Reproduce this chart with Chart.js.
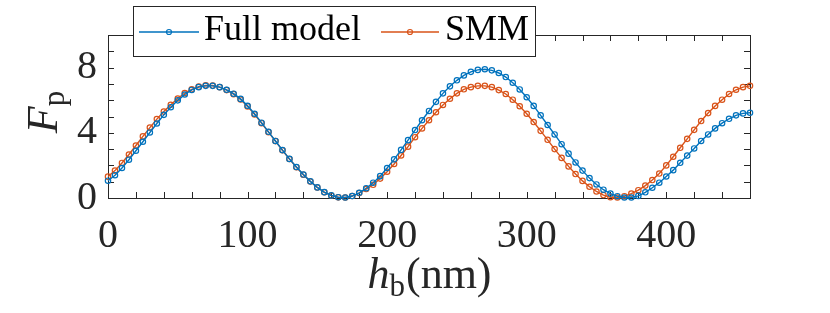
<!DOCTYPE html>
<html>
<head>
<meta charset="utf-8">
<script src="https://cdn.jsdelivr.net/npm/chart.js@4.4.1/dist/chart.umd.min.js"></script>
<style>
  html, body { margin: 0; padding: 0; background: #fff; }
  #wrap { width: 830px; height: 313px; }
</style>
</head>
<body>
<div id="wrap"><canvas id="fpChart"></canvas></div>
<script>
// h_b in nm
const hb = [
  0, 5, 10, 15, 20, 25, 30, 35, 40, 45,
  50, 55, 60, 65, 70, 75, 80, 85, 90, 95,
  100, 105, 110, 115, 120, 125, 130, 135, 140, 145,
  150, 155, 160, 165, 170, 175, 180, 185, 190, 195,
  200, 205, 210, 215, 220, 225, 230, 235, 240, 245,
  250, 255, 260, 265, 270, 275, 280, 285, 290, 295,
  300, 305, 310, 315, 320, 325, 330, 335, 340, 345,
  350, 355, 360, 365, 370, 375, 380, 385, 390, 395,
  400, 405, 410, 415, 420, 425, 430, 435, 440, 445,
  450, 455, 460
];

// Purcell factor F_p, full model
const fullModel = [
  1.06, 1.40, 1.84, 2.35, 2.90, 3.45, 4.02, 4.57, 5.10, 5.57,
  5.99, 6.35, 6.63, 6.80, 6.88, 6.88, 6.80, 6.64, 6.40, 6.08,
  5.66, 5.17, 4.62, 4.06, 3.50, 2.94, 2.40, 1.90, 1.44, 1.02,
  0.65, 0.36, 0.16, 0.05, 0.03, 0.12, 0.32, 0.60, 0.94, 1.34,
  1.84, 2.37, 2.95, 3.55, 4.17, 4.77, 5.34, 5.90, 6.42, 6.85,
  7.22, 7.52, 7.74, 7.86, 7.90, 7.83, 7.67, 7.42, 7.07, 6.66,
  6.18, 5.65, 5.07, 4.48, 3.90, 3.30, 2.72, 2.18, 1.68, 1.22,
  0.83, 0.51, 0.27, 0.11, 0.03, 0.03, 0.13, 0.35, 0.63, 0.94,
  1.32, 1.71, 2.16, 2.60, 3.04, 3.50, 3.90, 4.27, 4.59, 4.86,
  5.07, 5.19, 5.23
];

// Purcell factor F_p, SMM
const smm = [
  1.31, 1.68, 2.15, 2.67, 3.22, 3.78, 4.32, 4.84, 5.30, 5.72,
  6.10, 6.44, 6.67, 6.83, 6.91, 6.90, 6.80, 6.62, 6.37, 6.04,
  5.62, 5.13, 4.59, 4.04, 3.49, 2.93, 2.39, 1.89, 1.43, 1.01,
  0.64, 0.35, 0.15, 0.04, 0.03, 0.12, 0.30, 0.55, 0.81, 1.19,
  1.61, 2.09, 2.61, 3.15, 3.73, 4.27, 4.77, 5.26, 5.71, 6.09,
  6.42, 6.67, 6.80, 6.88, 6.88, 6.80, 6.62, 6.38, 6.03, 5.63,
  5.17, 4.66, 4.12, 3.57, 3.00, 2.46, 1.94, 1.47, 1.05, 0.69,
  0.40, 0.18, 0.05, 0.03, 0.11, 0.27, 0.48, 0.76, 1.10, 1.50,
  2.00, 2.53, 3.08, 3.63, 4.18, 4.72, 5.21, 5.65, 6.03, 6.38,
  6.64, 6.80, 6.88
];

const seriesNames = ['Full model', 'SMM'];
const xLabelTicks = [0, 100, 200, 300, 400];
const yLabelTicks = [0, 4, 8];

const BLUE = '#0072BD';
const ORANGE = '#D95319';
const AXIS = '#262626';
const SERIF = '"Liberation Serif", "DejaVu Serif", serif';

function toPoints(ys) {
  return hb.map((x, i) => ({ x: x, y: ys[i] }));
}

function lineSet(label, ys, color) {
  return {
    label: label,
    data: toPoints(ys),
    borderColor: color,
    borderWidth: 1.4,
    pointStyle: 'circle',
    pointRadius: 2.7,
    pointBorderWidth: 1.2,
    pointBorderColor: color,
    pointBackgroundColor: 'rgba(0,0,0,0)',
    tension: 0,
    clip: false
  };
}

// MATLAB-like box with inward ticks, titles and legend
const matlabLook = {
  id: 'matlabLook',
  beforeDatasetsDraw(chart) {
    const { ctx, chartArea: a, scales } = chart;
    const tl = 6;
    ctx.save();
    ctx.strokeStyle = AXIS;
    ctx.lineWidth = 1;
    ctx.strokeRect(a.left + 0.5, a.top + 0.5, a.right - a.left, a.bottom - a.top);
    ctx.beginPath();
    scales.x.ticks.forEach(t => {
      const px = Math.round(scales.x.getPixelForValue(t.value)) + 0.5;
      ctx.moveTo(px, a.bottom); ctx.lineTo(px, a.bottom - tl);
      ctx.moveTo(px, a.top); ctx.lineTo(px, a.top + tl);
    });
    scales.y.ticks.forEach(t => {
      const py = Math.round(scales.y.getPixelForValue(t.value)) + 0.5;
      ctx.moveTo(a.left, py); ctx.lineTo(a.left + tl, py);
      ctx.moveTo(a.right, py); ctx.lineTo(a.right - tl, py);
    });
    ctx.stroke();
    ctx.restore();
  },
  afterDraw(chart) {
    const { ctx, chartArea: a } = chart;
    ctx.save();
    ctx.fillStyle = AXIS;
    ctx.textBaseline = 'alphabetic';

    // x title: h_b(nm)
    const big = '44px ' + SERIF, bigIt = 'italic 44px ' + SERIF, sub = '31px ' + SERIF;
    ctx.font = bigIt; const wh = ctx.measureText('h').width;
    ctx.font = sub; const wb = ctx.measureText('b').width;
    ctx.font = big; const wn = ctx.measureText('(nm)').width;
    let x0 = (a.left + a.right) / 2 - (wh + wb + wn) / 2;
    const base = 288;
    ctx.font = bigIt; ctx.fillText('h', x0, base);
    ctx.font = sub; ctx.fillText('b', x0 + wh, base + 8);
    ctx.font = big; ctx.fillText('(nm)', x0 + wh + wb + 1, base);

    // y title: F_p (rotated)
    ctx.save();
    ctx.translate(57, 112);
    ctx.rotate(-Math.PI / 2);
    ctx.font = bigIt; const wf = ctx.measureText('F').width;
    ctx.font = sub; const wp = ctx.measureText('p').width;
    const y0 = -(wf + wp) / 2;
    ctx.font = bigIt; ctx.fillText('F', y0, 0);
    ctx.font = sub; ctx.fillText('p', y0 + wf, 7);
    ctx.restore();

    // legend
    const lx = 133, ly = 6, lw = 402, lh = 50, cy = 32;
    ctx.fillStyle = '#fff';
    ctx.fillRect(lx, ly, lw, lh);
    ctx.strokeStyle = AXIS;
    ctx.lineWidth = 1;
    ctx.strokeRect(lx + 0.5, ly + 0.5, lw, lh);
    const items = [
      { name: seriesNames[0], color: BLUE, x1: 139, x2: 199, tx: 204 },
      { name: seriesNames[1], color: ORANGE, x1: 381, x2: 439, tx: 445 }
    ];
    ctx.font = '36px ' + SERIF;
    items.forEach(it => {
      ctx.strokeStyle = it.color;
      ctx.lineWidth = 1.4;
      ctx.beginPath();
      ctx.moveTo(it.x1, cy); ctx.lineTo(it.x2, cy);
      ctx.stroke();
      ctx.lineWidth = 1.2;
      ctx.beginPath();
      ctx.arc((it.x1 + it.x2) / 2, cy, 2.5, 0, Math.PI * 2);
      ctx.stroke();
      ctx.fillStyle = '#000';
      ctx.fillText(it.name, it.tx, 40);
    });
    ctx.restore();
  }
};

new Chart(document.getElementById('fpChart'), {
  type: 'line',
  data: {
    datasets: [
      lineSet(seriesNames[0], fullModel, BLUE),
      lineSet(seriesNames[1], smm, ORANGE)
    ]
  },
  options: {
    responsive: true,
    maintainAspectRatio: false,
    animation: false,
    layout: { padding: { left: 0, right: 80, top: 25, bottom: 0 } },
    plugins: {
      legend: { display: false },
      tooltip: { enabled: false }
    },
    scales: {
      x: {
        type: 'linear',
        min: 0,
        max: 460,
        grid: { display: false, drawTicks: false },
        border: { display: false },
        afterFit: s => { s.height = 115; },
        ticks: {
          stepSize: 20,
          autoSkip: false,
          maxRotation: 0,
          padding: 14,
          color: AXIS,
          font: { family: SERIF, size: 40 },
          callback: v => (xLabelTicks.includes(v) ? String(v) : '')
        }
      },
      y: {
        min: 0,
        max: 10,
        grid: { display: false, drawTicks: false },
        border: { display: false },
        afterFit: s => { s.width = 108; },
        ticks: {
          stepSize: 1,
          autoSkip: false,
          padding: 11,
          color: AXIS,
          font: { family: SERIF, size: 40 },
          callback: v => (yLabelTicks.includes(v) ? String(v) : '')
        }
      }
    }
  },
  plugins: [matlabLook]
});
</script>
</body>
</html>
